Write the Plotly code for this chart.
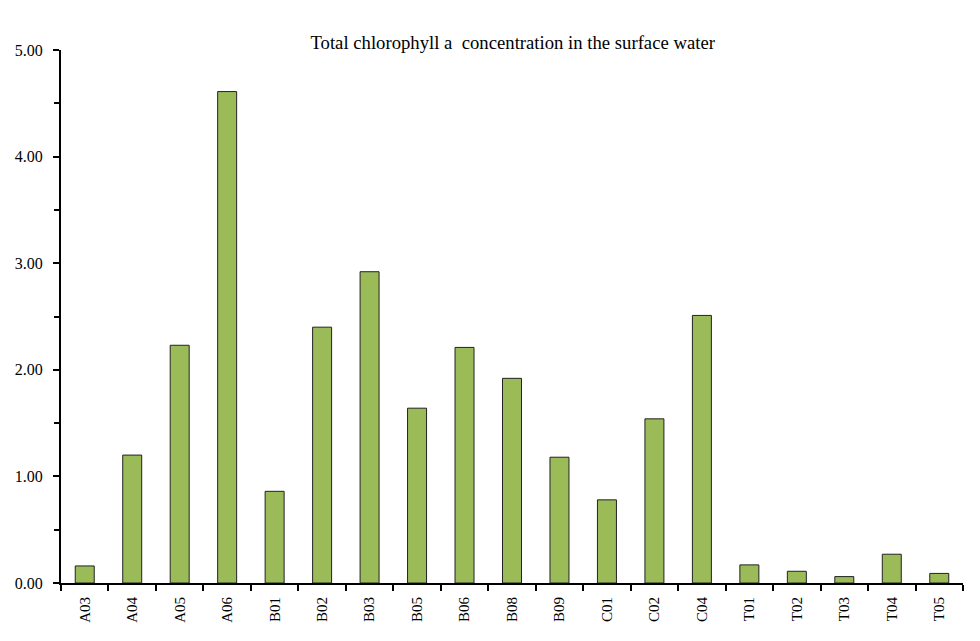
import plotly.graph_objects as go

stations = ["A03", "A04", "A05", "A06", "B01", "B02", "B03", "B05", "B06", "B08",
            "B09", "C01", "C02", "C04", "T01", "T02", "T03", "T04", "T05"]
chl_a = [0.16, 1.20, 2.23, 4.61, 0.86, 2.40, 2.92, 1.64, 2.21, 1.92,
         1.18, 0.78, 1.54, 2.51, 0.17, 0.11, 0.06, 0.27, 0.09]
y_ticks = [0, 1, 2, 3, 4, 5]
y_tick_labels = ["0.00", "1.00", "2.00", "3.00", "4.00", "5.00"]

font = "Liberation Serif, Times New Roman, serif"

fig = go.Figure(go.Bar(
    x=stations, y=chl_a,
    marker=dict(color="#9BBB59", line=dict(color="#222222", width=1)),
))

fig.update_layout(
    width=980, height=641,
    margin=dict(l=53, r=25, t=42, b=66, autoexpand=False),
    plot_bgcolor="white", paper_bgcolor="white",
    bargap=0.6,
    showlegend=False,
    title=dict(text="Total chlorophyll a  concentration in the surface water",
               x=0.515, xanchor="center", y=1 - 34 / 641, yanchor="middle",
               font=dict(family=font, size=18.7, color="black")),
    font=dict(family=font, size=15, color="black"),
)
fig.update_xaxes(
    showline=True, linecolor="black", linewidth=2,
    ticks="outside", tickson="boundaries", ticklen=6, tickwidth=2, tickcolor="black",
    tickangle=-90, tickfont=dict(family=font, size=15, color="black"),
    ticklabelstandoff=6,
    showgrid=False,
)
fig.update_yaxes(
    range=[0, 5], showline=True, linecolor="black", linewidth=2,
    tickvals=y_ticks, ticktext=y_tick_labels,
    ticks="outside", ticklen=6, tickwidth=2, tickcolor="black",
    minor=dict(dtick=0.5, ticks="outside", ticklen=5, tickwidth=2, tickcolor="black", showgrid=False),
    tickfont=dict(family=font, size=16, color="black"),
    ticklabelstandoff=7,
    showgrid=False, zeroline=False,
)

fig.write_html("out.html")
